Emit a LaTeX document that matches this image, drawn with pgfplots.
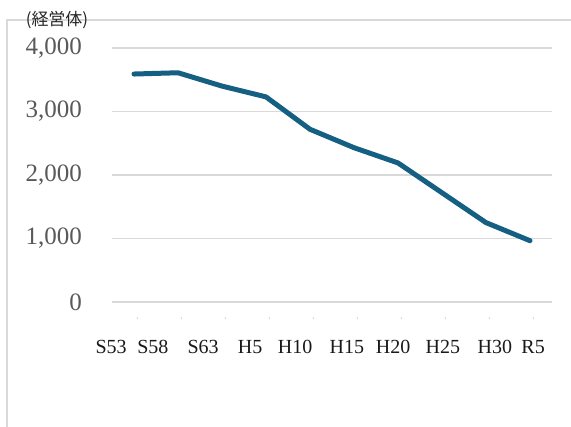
\documentclass[border=0pt]{standalone}
\usepackage{pgfplots}
\pgfplotsset{compat=1.18}
\usepackage{fontspec}
\setmainfont{Liberation Serif}
\newfontfamily\cjk{Noto Sans CJK JP}
\definecolor{linec}{HTML}{156082}
\definecolor{gridc}{HTML}{D9D9D9}
\definecolor{labc}{HTML}{595959}
\begin{document}
\begin{tikzpicture}
\useasboundingbox (0pt,0pt) rectangle (571pt,427pt);
% chart frame (only left and top edges visible)
\draw[gridc, line width=1.3pt] (7pt,0pt) -- (7pt,407pt) -- (571pt,407pt);
\node[inner sep=0pt, font=\cjk\fontsize{17}{19}\selectfont, text=black!85] at (57pt,407pt) {(経営体)};
\begin{axis}[
  at={(112pt,125pt)}, anchor=south west,
  scale only axis, width=440pt, height=254pt,
  xmin=-0.5, xmax=9.5, ymin=0, ymax=4000,
  axis x line*=bottom, axis y line*=left,
  axis line style={draw=none},
  major tick length=0pt,
  ymajorgrids,
  grid style={gridc, line width=1.3pt},
  ytick={0,1000,2000,3000,4000},
  yticklabels={0,{1,000},{2,000},{3,000},{4,000}},
  yticklabel style={anchor=east, inner sep=0pt, xshift=-30pt,
    font=\fontsize{25}{25}\selectfont, text=labc},
  xtick={-0.42,0.53,1.67,2.74,3.76,4.94,5.99,7.12,8.30,9.17},
  xticklabels={S53,S58,S63,H5,H10,H15,H20,H25,H30,R5},
  xticklabel style={anchor=base, inner sep=0pt, xshift=-4.4pt, yshift=-52pt,
    font=\fontsize{20}{20}\selectfont, text=black!90},
  extra x ticks={0.09,1.09,2.09,3.09,4.09,5.09,6.09,7.09,8.09,9.09},
  extra x tick labels={},
  extra x tick style={major tick length=1.5pt, grid=none,
    tick style={draw=gridc, line width=1pt, yshift=-17pt}},
  clip=false,
]
\addplot[linec, line width=5pt, line cap=round, line join=round] coordinates {
  (0,3590) (1,3610) (2,3400) (3,3230) (4,2720)
  (5,2430) (6,2190) (7,1720) (8,1250) (9,965)
};
\end{axis}
\end{tikzpicture}
\end{document}
